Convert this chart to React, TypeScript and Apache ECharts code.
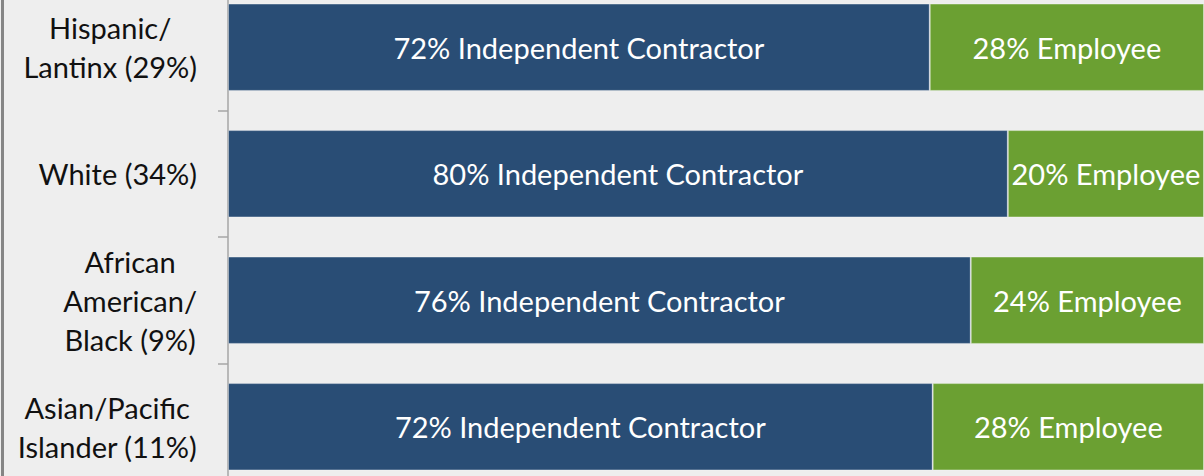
import React, { useEffect, useRef } from "react";
import * as echarts from "echarts";

const categories: string[] = [
  "Hispanic/\nLantinx (29%)",
  "White (34%)",
  "African\nAmerican/\nBlack (9%)",
  "Asian/Pacific\nIslander (11%)",
];
const contractorValues: number[] = [71.9, 79.9, 76.1, 72.2];
const employeeValues: number[] = [28.1, 20.1, 23.9, 27.8];
const contractorName = "Independent Contractor";
const employeeName = "Employee";

const FONT = "Lato, 'Open Sans', sans-serif";

export default function App() {
  const ref = useRef<HTMLDivElement>(null);
  useEffect(() => {
    if (!ref.current) return;
    const chart = echarts.init(ref.current, undefined, { renderer: "svg" });
    chart.setOption({
      animation: false,
      backgroundColor: "#eeeeee",
      textStyle: { fontFamily: FONT },
      grid: { left: 228, width: 976, top: 0, height: 506, containLabel: false },
      xAxis: {
        type: "value",
        min: 0,
        max: 100,
        show: false,
      },
      yAxis: {
        type: "category",
        inverse: true,
        data: categories,
        axisLine: { show: true, lineStyle: { color: "#a6a6a6", width: 1.5 } },
        axisTick: { show: true, length: 10, lineStyle: { color: "#a6a6a6", width: 1.5 } },
        axisLabel: {
          margin: 31,
          fontSize: 29,
          color: "#111111",
          fontFamily: FONT,
          lineHeight: 39,
          formatter: (v: string) =>
            v
              .split("\n")
              .map((l) => `{c|${l}}`)
              .join("\n"),
          rich: {
            c: { align: "center", fontSize: 29, lineHeight: 39, color: "#111111", fontFamily: FONT },
          },
        },
      },
      graphic: [
        {
          type: "rect",
          shape: { x: 1, y: 0, width: 3, height: 506 },
          style: { fill: "#858585" },
          z: 100,
        },
      ],
      series: [
        {
          name: contractorName,
          type: "bar",
          stack: "total",
          data: contractorValues,
          barCategoryGap: "31%",
          itemStyle: { color: "#294d75", borderColor: "rgba(255,255,255,0.35)", borderWidth: 1 },
          label: {
            show: true,
            position: "inside",
            color: "#ffffff",
            fontSize: 29,
            fontFamily: FONT,
            formatter: (p: any) => `${Math.round(p.value)}% ${contractorName}`,
          },
        },
        {
          name: employeeName,
          type: "bar",
          stack: "total",
          data: employeeValues,
          barCategoryGap: "31%",
          itemStyle: { color: "#6ba032", borderColor: "rgba(255,255,255,0.35)", borderWidth: 1 },
          label: {
            show: true,
            position: "inside",
            color: "#ffffff",
            fontSize: 29,
            fontFamily: FONT,
            formatter: (p: any) => `${Math.round(p.value)}% ${employeeName}`,
          },
        },
      ],
    });
    return () => chart.dispose();
  }, []);
  return (
    <div
      style={{
        position: "fixed",
        left: 0,
        top: 0,
        width: 1204,
        height: 476,
        overflow: "hidden",
      }}
    >
      <div
        ref={ref}
        style={{ position: "absolute", left: 0, top: -16, width: 1204, height: 506 }}
      />
    </div>
  );
}
